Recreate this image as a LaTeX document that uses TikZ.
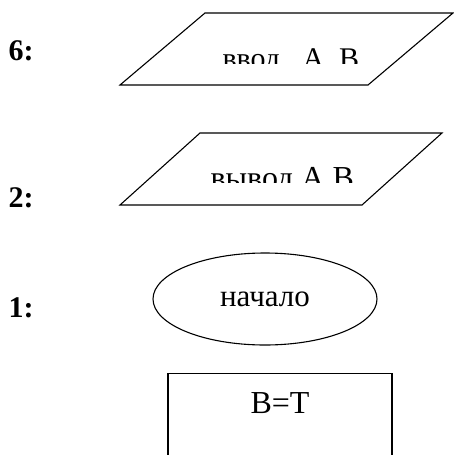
\documentclass[tikz,border=0pt]{standalone}
\usepackage{fontspec}
\setmainfont{Liberation Serif}
\usetikzlibrary{shapes.geometric, positioning}

\begin{document}
\begin{tikzpicture}[x=1pt, y=-1pt, line width=1.1pt,
    io/.style={draw, line join=miter},
    term/.style={ellipse, draw, minimum width=224pt, minimum height=92pt, inner sep=0pt, font=\fontsize{31}{36}\selectfont},
    proc/.style={rectangle, draw, minimum width=224pt, minimum height=120pt},
    num/.style={anchor=base west, inner sep=0pt, font=\fontsize{30}{36}\selectfont\bfseries},
    iotext/.style={anchor=base west, inner sep=0pt}]

    \useasboundingbox (0,0) rectangle (454,455);

    % Numbers
    \node [num] (n6) at (8,60) {6:};
    \node [num] (n2) at (8,207) {2:};
    \node [num] (n1) at (8,317) {1:};

    % Input / output blocks
    \draw [io] (120,85) coordinate (inputsw) -- ++(85,-72) -- ++(248,0) -- ++(-85,72) -- cycle;
    \draw [io] (120,205) coordinate (outputsw) -- ++(80,-72) -- ++(242,0) -- ++(-80,72) -- cycle;

    % text of the blocks, cut at the bottom
    \begin{scope}
        \clip (120,0) rectangle (454,63);
        \node [iotext, font=\fontsize{30}{36}\selectfont] (intext) at (222,68) {ввод\enspace\ A, B};
    \end{scope}
    \begin{scope}
        \clip (120,120) rectangle (454,182);
        \node [iotext, font=\fontsize{32}{38}\selectfont] (outtext) at (210,188) {вывод A,B};
    \end{scope}

    % Start and process
    \node [term] (start) at (265,299) {начало};
    \node [proc, anchor=north] (assign) at (280,373) {};
    \node [below=19pt of assign.north, inner sep=0pt, font=\fontsize{32}{38}\selectfont] (assigntext) {B=T};

\end{tikzpicture}
\end{document}
